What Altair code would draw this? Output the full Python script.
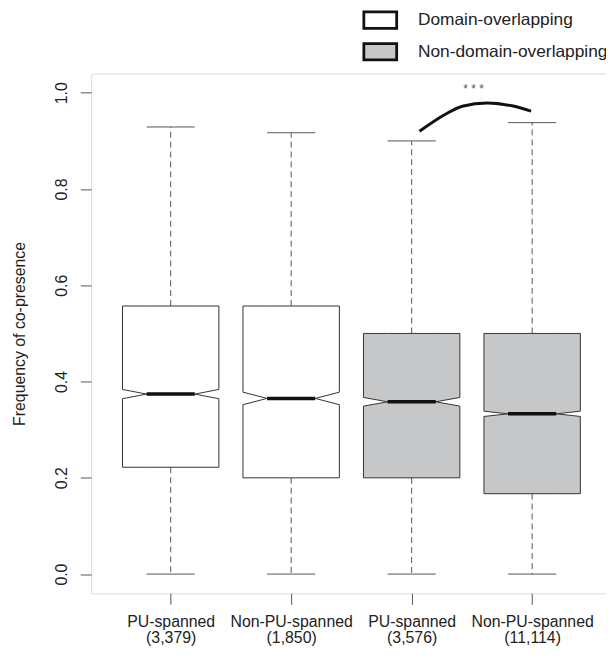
import json
import altair as alt
import pandas as pd

# ---- data ----
categories = ["PU-spanned", "Non-PU-spanned", "PU-spanned", "Non-PU-spanned"]
counts = ["(3,379)", "(1,850)", "(3,576)", "(11,114)"]
groups = ["Domain-overlapping", "Domain-overlapping",
          "Non-domain-overlapping", "Non-domain-overlapping"]
positions = [1, 2, 3, 4]
q1 = [0.222, 0.200, 0.200, 0.167]
medians = [0.374, 0.365, 0.358, 0.333]
q3 = [0.557, 0.557, 0.500, 0.500]
whisker_low = [0.0, 0.0, 0.0, 0.0]
whisker_high = [0.929, 0.917, 0.900, 0.938]
notch_half = [0.0096, 0.013, 0.009, 0.0055]

curve_x = [3.065, 3.284, 3.421, 3.627, 3.832, 3.991]
curve_y = [0.920, 0.956, 0.972, 0.979, 0.973, 0.962]
sig_label = ["* * *"]
sig_x = [3.514]
sig_y = [1.007]

legend_groups = ["Domain-overlapping", "Non-domain-overlapping"]
legend_fills = ["#ffffff", "#c6c7c9"]

BOX_HALF = 0.4
INNER_HALF = 0.2
FONT = "Liberation Sans"

# ---- tables: each notched box = lower half + upper half (vertical areas) ----
rows = []
for i, p in enumerate(positions):
    xs = [p - BOX_HALF, p - INNER_HALF, p + INNER_HALF, p + BOX_HALF]
    lower_top = [medians[i] - notch_half[i], medians[i], medians[i],
                 medians[i] - notch_half[i]]
    upper_bot = [medians[i] + notch_half[i], medians[i], medians[i],
                 medians[i] + notch_half[i]]
    for k, xv in enumerate(xs):
        rows.append({"part": f"p{i}lo", "x": xv, "ya": q1[i],
                     "yb": lower_top[k], "group": groups[i]})
        rows.append({"part": f"p{i}hi", "x": xv, "ya": upper_bot[k],
                     "yb": q3[i], "group": groups[i]})
outline = pd.DataFrame(rows)

stats = pd.DataFrame({"pos": positions, "med": medians,
                      "left": [p - INNER_HALF for p in positions],
                      "right": [p + INNER_HALF for p in positions]})
whisk = pd.DataFrame({
    "pos": positions + positions,
    "y1": q3 + q1,
    "y2": whisker_high + whisker_low,
})
caps = pd.DataFrame({
    "left": [p - INNER_HALF for p in positions] * 2,
    "right": [p + INNER_HALF for p in positions] * 2,
    "y": whisker_high + whisker_low,
})
curve = pd.DataFrame({"x": curve_x, "y": curve_y})
sig = pd.DataFrame({"x": sig_x, "y": sig_y, "t": sig_label})

# ---- scales / axes ----
xscale = alt.Scale(domain=[0.34, 4.613], nice=False, zero=False)
yscale = alt.Scale(domain=[-0.04, 1.04], nice=False, zero=False)

label_expr = " : ".join(
    f"datum.value == {p} ? {json.dumps([c, n])}"
    for p, c, n in zip(positions, categories, counts)) + " : ''"

xaxis = alt.Axis(values=positions, labelExpr=label_expr, tickSize=11,
                 tickColor="#555", domain=False, grid=False, title=None,
                 labelFont=FONT, labelFontSize=16, labelLineHeight=16,
                 labelColor="#222", labelPadding=10)
yaxis = alt.Axis(values=[0, 0.2, 0.4, 0.6, 0.8, 1.0], format=".1f",
                 labelAngle=-90, labelAlign="center",
                 labelBaseline="alphabetic", tickSize=11, tickColor="#555",
                 labelPadding=14, domain=False, grid=False,
                 title="Frequency of co-presence", titleFont=FONT,
                 titleFontSize=16, titleFontWeight="normal",
                 titleColor="#222", titlePadding=26,
                 labelFont=FONT, labelFontSize=16, labelColor="#222")

legend = alt.Legend(orient="none", legendX=274, legendY=-72, title=None,
                    symbolType="M-1,-0.5H1V0.5H-1Z", symbolSize=1100,
                    symbolStrokeWidth=2.8, symbolStrokeColor="#111",
                    symbolOpacity=1, labelFont=FONT, labelFontSize=17.5,
                    labelColor="#222", labelOffset=20, rowPadding=0,
                    labelLimit=0, padding=0)

X = lambda f: alt.X(f, type="quantitative", scale=xscale, axis=xaxis)
Y = lambda f: alt.Y(f, type="quantitative", scale=yscale, axis=yaxis)

boxes = alt.Chart(outline).mark_area(
    stroke="#333", strokeWidth=1, opacity=1, interpolate="linear").encode(
    x=X("x"), y=Y("ya"), y2="yb",
    fill=alt.Fill("group:N", scale=alt.Scale(domain=legend_groups,
                                             range=legend_fills),
                  legend=legend),
    detail="part:N")

whiskers = alt.Chart(whisk).mark_rule(
    color="#555", strokeWidth=1, strokeDash=[6, 4]).encode(
    x=X("pos"), y=Y("y1"), y2="y2")

capr = alt.Chart(caps).mark_rule(color="#555", strokeWidth=1).encode(
    x=X("left"), x2="right", y=Y("y"))

med = alt.Chart(stats).mark_rule(color="#111", strokeWidth=3.5).encode(
    x=X("left"), x2="right", y=Y("med"))

arc = alt.Chart(curve).mark_line(color="#111", strokeWidth=3,
                                 interpolate="monotone").encode(
    x=X("x"), y=Y("y"))

stars = alt.Chart(sig).mark_text(fontSize=12, color="#555", font=FONT).encode(
    x=X("x"), y=Y("y"), text="t:N")

chart = alt.layer(whiskers, capr, boxes, med, arc, stars).properties(
    width=520, height=525,
    autosize=alt.AutoSizeParams(type="none"),
    padding={"left": 84, "top": 63, "right": 0, "bottom": 52},
).configure_view(stroke="#333", strokeWidth=1).configure(background="white")

chart.save("out.html", embed_options={"renderer": "svg", "actions": False})
